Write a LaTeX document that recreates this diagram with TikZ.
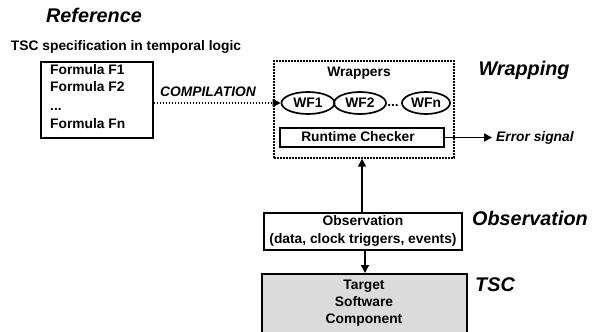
\documentclass[tikz,border=0pt]{standalone}
\usepackage{fontspec}
\setmainfont{Liberation Sans}
\usetikzlibrary{arrows.meta,shapes.geometric}
\begin{document}
\begin{tikzpicture}[x=1pt,y=-1pt,
  tx/.style={font=\bfseries\fontsize{13.8}{16}\selectfont, inner sep=0pt, anchor=base},
  itx/.style={font=\bfseries\itshape\fontsize{13.8}{16}\selectfont, inner sep=0pt, anchor=base},
  big/.style={font=\bfseries\itshape\fontsize{19.8}{22}\selectfont, inner sep=0pt, anchor=base},
  solidbox/.style={draw, line width=1.7pt},
  dotbox/.style={draw, line width=1.7pt, dash pattern=on 1.7pt off 1.3pt},
  wf/.style={draw, ellipse, line width=1.7pt, inner sep=0pt, minimum height=22pt, font=\bfseries\fontsize{13.8}{16}\selectfont},
  arr/.style={line width=1.6pt, -{Triangle[length=8pt,width=8pt]}}]
\useasboundingbox (0,0) rectangle (592,332);
\node[big] (ref) at (94,22) {Reference};
\node[tx] (spec) at (126,50) {TSC specification in temporal logic};
\node[solidbox, minimum width=112pt, minimum height=76pt, anchor=north west, inner sep=0pt] (formbox) at (40,61) {};
\node[tx, anchor=base west] (f1) at (50,74) {Formula F1};
\node[tx, anchor=base west] (f2) at (50,91.5) {Formula F2};
\node[tx, anchor=base west] (f3) at (50,110) {...};
\node[tx, anchor=base west] (fn) at (50,128) {Formula Fn};
\node[dotbox, minimum width=180pt, minimum height=97pt, anchor=north west, inner sep=0pt] (wrap) at (273,60) {};
\node[tx] (wrappers) at (359,76.5) {Wrappers};
\node[wf, minimum width=53pt] (wf1) at (308,103) {WF1};
\node[wf, minimum width=52pt] (wf2) at (360,103) {WF2};
\node[tx] (dots) at (393,106) {...};
\node[wf, minimum width=48pt] (wfn) at (426,103) {WFn};
\node[solidbox, minimum width=164pt, minimum height=19pt, inner sep=0pt] (rc) at (362,137.5) {};
\node[tx] (rct) at (358,141) {Runtime Checker};
\coordinate (errend) at (492,137.5);
\node[itx, anchor=base west] (err) at (496,141) {Error signal};
\draw[arr] (rc.east) -- (errend);
\node[itx] (comp) at (208,96.5) {COMPILATION};
\draw[arr, dash pattern=on 1.7pt off 1.3pt] (formbox.east |- wf1.west) -- (wf1.west);
\node[big] (wrapping) at (524,75) {Wrapping};
\node[solidbox, minimum width=198pt, minimum height=37pt, inner sep=0pt] (obs) at (363,231.5) {};
\node[tx] (obs1) at (363,225.5) {Observation};
\node[tx] (obs2) at (363,243) {(data, clock triggers, events)};
\node[big] (obsl) at (530,225.5) {Observation};
\node[solidbox, fill=black!14, minimum width=205pt, minimum height=80pt, anchor=north, inner sep=0pt] (tsc) at (364.5,273) {};
\node[tx] (t1) at (364,289) {Target};
\node[tx] (t2) at (364,306.5) {Software};
\node[tx] (t3) at (364,323) {Component};
\node[big] (tscl) at (495,291) {TSC};
\coordinate (upx) at (362,0);
\coordinate (dnx) at (365,0);
\draw[arr] (obs.north -| upx) -- (wrap.south -| upx);
\draw[arr] (obs.south -| dnx) -- (tsc.north -| dnx);
\end{tikzpicture}
\end{document}
